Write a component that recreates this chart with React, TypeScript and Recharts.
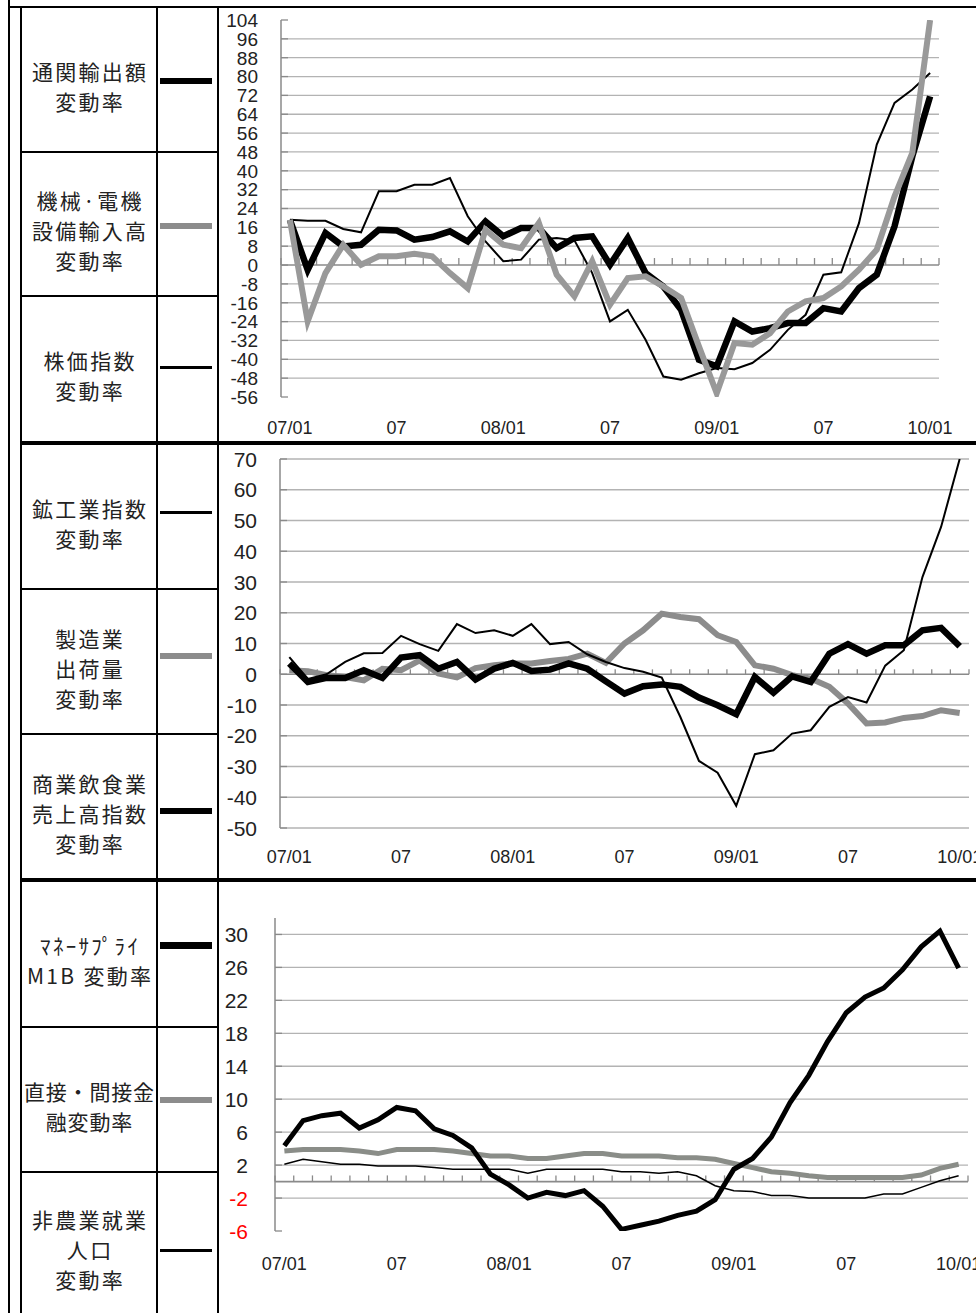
import React from 'react';
import { LineChart, Line, XAxis, YAxis, CartesianGrid, ReferenceLine } from 'recharts';

// ---------- categories ----------
const months = [
  '07/01', '07/02', '07/03', '07/04', '07/05', '07/06', '07/07', '07/08', '07/09', '07/10', '07/11', '07/12',
  '08/01', '08/02', '08/03', '08/04', '08/05', '08/06', '08/07', '08/08', '08/09', '08/10', '08/11', '08/12',
  '09/01', '09/02', '09/03', '09/04', '09/05', '09/06', '09/07', '09/08', '09/09', '09/10', '09/11', '09/12',
  '10/01',
];
const tickMonths = ['07/01', '07/07', '08/01', '08/07', '09/01', '09/07', '10/01'];
const tickLabels = ['07/01', '07', '08/01', '07', '09/01', '07', '10/01'];

// ---------- panel 1 ----------
const exportsRate = [19.2, -2, 13.6, 7.9, 8.6, 15, 14.7, 10.8, 11.9, 14.3, 10, 18.5, 12.2, 15.7, 15.7, 7.2, 11.5, 12.2, 0.1, 11.5, -3.4, -9.1, -19, -40.2, -43, -23.9, -28.2, -26.8, -24.6, -24.6, -18.3, -19.7, -9.8, -4.1, 16.4, 46.1, 71.6];
const machineryImports = [19.2, -23.9, -3.4, 8.6, 0.1, 3.7, 3.7, 4.8, 3.7, -3.4, -9.8, 15, 8.6, 7.2, 17.8, -4.1, -13.3, 1.6, -16.8, -5.5, -4.8, -9.1, -14, -34.5, -54.4, -33.1, -33.8, -28.9, -19.7, -15.4, -14, -9.1, -2, 6.5, 29.2, 47.6, 104];
const stockIndex = [19.2, 18.8, 18.8, 15.3, 13.9, 31.3, 31.3, 34.1, 34.1, 36.9, 20.7, 10, 1.6, 2.3, 10.8, 11.5, 10.5, -3.4, -23.9, -19, -31.7, -47.3, -48.7, -45.9, -43.7, -44.2, -41.6, -36, -27.5, -21.1, -4.1, -3.1, 17.8, 51.1, 68.8, 74.5, 81.5];

// ---------- panel 2 ----------
const miningIndex = [5.6, -1.5, 0, 4, 6.8, 6.9, 12.5, 9.8, 7.6, 16.3, 13.4, 14.3, 12.5, 16.3, 9.8, 10.5, 6.5, 4, 2, 0.8, -1.1, -13.9, -28.2, -32, -42.8, -26, -24.7, -19.3, -18.2, -10.6, -7.4, -9.2, 2.8, 7.8, 31.6, 47.9, 70];
const mfgShipments = [1.3, 1, -0.3, -0.9, -2, 1.8, 1.3, 4.5, 0.3, -1, 2, 2.9, 3.5, 3.5, 4.3, 5, 6.7, 3.7, 10, 14.3, 19.7, 18.6, 17.9, 12.7, 10.5, 2.9, 1.8, -0.3, -1.4, -4.1, -9.5, -16, -15.7, -14.2, -13.6, -11.7, -12.6];
const commerceSales = [3.5, -2.5, -1.2, -1.2, 1.3, -1.2, 5.4, 6.2, 1.8, 4, -1.7, 1.8, 3.7, 1.1, 1.5, 3.5, 1.8, -2.3, -6.3, -3.9, -3.3, -4.1, -7.6, -10.1, -13, -0.9, -6, -0.7, -2.5, 6.7, 9.8, 6.7, 9.4, 9.4, 14.3, 15.1, 9.1];

// ---------- panel 3 ----------
const moneyM1B = [4.35, 7.4, 8.0, 8.3, 6.5, 7.5, 9.0, 8.6, 6.4, 5.6, 4.1, 0.9, -0.4, -2.0, -1.3, -1.7, -1.1, -3.0, -5.8, -5.3, -4.8, -4.1, -3.6, -2.2, 1.5, 2.8, 5.4, 9.6, 12.9, 17.0, 20.5, 22.4, 23.5, 25.7, 28.5, 30.4, 25.9];
const financing = [3.7, 3.9, 3.9, 3.9, 3.7, 3.4, 3.9, 3.9, 3.9, 3.7, 3.4, 3.1, 3.1, 2.8, 2.8, 3.1, 3.4, 3.4, 3.1, 3.1, 3.1, 2.9, 2.9, 2.7, 2.2, 1.7, 1.2, 1.0, 0.7, 0.5, 0.5, 0.5, 0.5, 0.5, 0.8, 1.6, 2.1];
const nonfarmJobs = [2.1, 2.7, 2.4, 2.1, 2.1, 1.9, 1.9, 1.9, 1.7, 1.5, 1.5, 1.5, 1.5, 1.0, 1.5, 1.5, 1.5, 1.5, 1.2, 1.2, 1.0, 1.2, 0.7, -0.5, -1.1, -1.2, -1.7, -1.7, -2.0, -2.0, -2.0, -2.0, -1.5, -1.5, -0.7, 0.1, 0.7];

// ---------- axis ticks ----------
const yTicks1 = [-56, -48, -40, -32, -24, -16, -8, 0, 8, 16, 24, 32, 40, 48, 56, 64, 72, 80, 88, 96, 104];
const grid1 = [-48, -40, -32, -24, -16, -8, 8, 16, 24, 32, 40, 48, 56, 64, 72, 80, 88, 96];
const yTicks2 = [-50, -40, -30, -20, -10, 0, 10, 20, 30, 40, 50, 60, 70];
const grid2 = [-50, -40, -30, -20, -10, 10, 20, 30, 40, 50, 60, 70];
const yTicks3 = [-6, -2, 2, 6, 10, 14, 18, 22, 26, 30];
const grid3 = [-2, 2, 6, 10, 14, 18, 22, 26, 30];

const NUM_FONT = "'Liberation Sans', Arial, sans-serif";
const JP_FONT = "'Noto Sans CJK JP', 'Noto Sans', sans-serif";

const tickIdx = tickMonths.map((m) => months.indexOf(m));
const boundaries = [...months.map((_, i) => i - 0.5), months.length - 0.5];

type SeriesDef = { key: string; values: number[]; color: string; width: number };

type PanelProps = {
  top: number;
  height: number;
  marginTop: number;
  marginRight: number;
  xAxisHeight: number;
  yAxisWidth: number;
  domain: [number, number];
  yTicks: number[];
  grid: number[];
  tickLen: number;
  xTickMargin: number;
  yTickMargin: number;
  yFontSize: number;
  series: SeriesDef[];
  redNegative?: boolean;
};

function Panel(p: PanelProps) {
  const data = months.map((m, i) => {
    const row: Record<string, number | string> = { idx: i, month: m };
    p.series.forEach((s) => {
      row[s.key] = s.values[i];
    });
    return row;
  });
  const renderYTick = (props: any) => {
    const { x, y, payload } = props;
    const v = payload.value as number;
    const fill = p.redNegative && v < 0 ? '#ff0000' : '#222';
    return (
      <text x={x} y={y} dy="0.36em" textAnchor="end" fill={fill} fontSize={p.yFontSize} fontFamily={NUM_FONT}>
        {v}
      </text>
    );
  };
  return (
    <div style={{ position: 'absolute', left: 218, top: p.top }}>
      <LineChart
        width={780}
        height={p.height}
        data={data}
        margin={{ top: p.marginTop, right: p.marginRight + 22, bottom: 0, left: 0 }}
      >
        <CartesianGrid horizontalValues={p.grid} vertical={false} stroke="#b3b3b3" strokeWidth={1.3} />
        <XAxis
          dataKey="idx"
          type="number"
          domain={[-0.5, 36.5]}
          ticks={tickIdx}
          interval={0}
          tickFormatter={(v: number) => tickLabels[tickIdx.indexOf(v)] ?? ''}
          axisLine={false}
          tickLine={false}
          tickSize={0}
          tickMargin={p.xTickMargin}
          height={p.xAxisHeight}
          allowDataOverflow
          tick={{ fontSize: 18, fill: '#222', fontFamily: NUM_FONT }}
        />
        <YAxis
          type="number"
          domain={p.domain}
          ticks={p.yTicks}
          interval={0}
          width={p.yAxisWidth}
          axisLine={{ stroke: '#8a8a8a', strokeWidth: 1.5 }}
          tickLine={{ stroke: '#8a8a8a', strokeWidth: 1.3 }}
          tickSize={-7}
          tickMargin={p.yTickMargin}
          tick={renderYTick}
          allowDataOverflow
        />
        <ReferenceLine y={0} stroke="#8a8a8a" strokeWidth={1.6} />
        {boundaries.map((b) => (
          <ReferenceLine
            key={b}
            segment={[
              { x: b, y: 0 },
              { x: b, y: p.tickLen },
            ]}
            stroke="#8a8a8a"
            strokeWidth={1.3}
          />
        ))}
        {p.series.map((s) => (
          <Line
            key={s.key}
            type="linear"
            dataKey={s.key}
            stroke={s.color}
            strokeWidth={s.width}
            dot={false}
            activeDot={false}
            isAnimationActive={false}
          />
        ))}
      </LineChart>
    </div>
  );
}

function Box({ x, y, w, h, c = '#000' }: { x: number; y: number; w: number; h: number; c?: string }) {
  return <div style={{ position: 'absolute', left: x, top: y, width: w, height: h, background: c }} />;
}

function Cell({ top, height, lines, spacing = 2.3 }: { top: number; height: number; lines: string[]; spacing?: number }) {
  return (
    <div
      style={{
        position: 'absolute',
        left: 22,
        top,
        width: 134,
        height,
        display: 'flex',
        flexDirection: 'column',
        alignItems: 'center',
        justifyContent: 'center',
        paddingTop: 12,
        boxSizing: 'border-box',
        fontFamily: JP_FONT,
        fontSize: 21,
        lineHeight: '30px',
        color: '#222',
        whiteSpace: 'nowrap',
      }}
    >
      {lines.map((l, i) => (
        <div key={i} style={{ letterSpacing: spacing, marginRight: -spacing }}>
          {l}
        </div>
      ))}
    </div>
  );
}

function Sample({ cy, h, c }: { cy: number; h: number; c: string }) {
  return <Box x={160} y={cy - h / 2} w={52} h={h} c={c} />;
}

export default function App() {
  return (
    <div
      style={{
        position: 'absolute',
        left: 0,
        top: 0,
        width: 976,
        height: 1313,
        overflow: 'hidden',
        background: '#fff',
      }}
    >
      <style>{`body{overflow:hidden;margin:0}`}</style>

      {/* table frame */}
      <Box x={8} y={0} w={2} h={1313} />
      <Box x={20} y={6} w={2} h={1307} />
      <Box x={156} y={6} w={2} h={1307} />
      <Box x={217} y={6} w={2} h={1307} />
      <Box x={8} y={6} w={968} h={2} />
      <Box x={20} y={441} w={956} h={4} />
      <Box x={20} y={878} w={956} h={4} />
      {[151, 295, 588, 733, 1026, 1171].map((y) => (
        <Box key={y} x={20} y={y} w={199} h={2} />
      ))}

      {/* labels */}
      <Cell top={8} height={143} lines={['通関輸出額', '変動率']} />
      <Cell top={153} height={142} lines={['機械·電機', '設備輸入高', '変動率']} />
      <Cell top={297} height={144} lines={['株価指数', '変動率']} />
      <Cell top={445} height={143} lines={['鉱工業指数', '変動率']} />
      <Cell top={590} height={143} lines={['製造業', '出荷量', '変動率']} />
      <Cell top={735} height={143} lines={['商業飲食業', '売上高指数', '変動率']} />
      <Cell top={882} height={144} lines={['ﾏﾈｰｻﾌﾟﾗｲ', 'M1B 変動率']} />
      <Cell top={1028} height={143} lines={['直接・間接金', '融変動率']} spacing={0.8} />
      <Cell top={1173} height={140} lines={['非農業就業', '人口', '変動率']} />

      {/* legend samples */}
      <Sample cy={81} h={6} c="#000" />
      <Sample cy={226} h={6} c="#8c8c8c" />
      <Sample cy={367} h={3} c="#000" />
      <Sample cy={512} h={3} c="#000" />
      <Sample cy={656} h={6} c="#8c8c8c" />
      <Sample cy={811} h={6} c="#000" />
      <Sample cy={945} h={7} c="#000" />
      <Sample cy={1100} h={6} c="#8c8c8c" />
      <Sample cy={1250} h={3} c="#000" />

      <Panel
        top={8}
        height={433}
        marginTop={12}
        marginRight={37}
        xAxisHeight={44}
        yAxisWidth={63}
        domain={[-56, 104]}
        yTicks={yTicks1}
        grid={grid1}
        tickLen={3}
        xTickMargin={24}
        yTickMargin={30}
        yFontSize={19}
        series={[
          { key: 'exports', values: exportsRate, color: '#000', width: 6.5 },
          { key: 'stock', values: stockIndex, color: '#000', width: 2 },
          { key: 'machinery', values: machineryImports, color: '#999999', width: 6 },
        ]}
      />
      <Panel
        top={445}
        height={433}
        marginTop={14}
        marginRight={7}
        xAxisHeight={50}
        yAxisWidth={62}
        domain={[-50, 70]}
        yTicks={yTicks2}
        grid={grid2}
        tickLen={1.6}
        xTickMargin={22}
        yTickMargin={30}
        yFontSize={21}
        series={[
          { key: 'shipments', values: mfgShipments, color: '#8c8c8c', width: 6 },
          { key: 'commerce', values: commerceSales, color: '#000', width: 6.5 },
          { key: 'mining', values: miningIndex, color: '#000', width: 2 },
        ]}
      />
      <Panel
        top={882}
        height={431}
        marginTop={36}
        marginRight={8}
        xAxisHeight={82}
        yAxisWidth={57}
        domain={[-6, 32]}
        yTicks={yTicks3}
        grid={grid3}
        tickLen={0.75}
        xTickMargin={26}
        yTickMargin={34}
        yFontSize={21}
        redNegative
        series={[
          { key: 'financing', values: financing, color: '#8a8d88', width: 5 },
          { key: 'm1b', values: moneyM1B, color: '#000', width: 5 },
          { key: 'nonfarm', values: nonfarmJobs, color: '#000', width: 1.5 },
        ]}
      />
    </div>
  );
}
